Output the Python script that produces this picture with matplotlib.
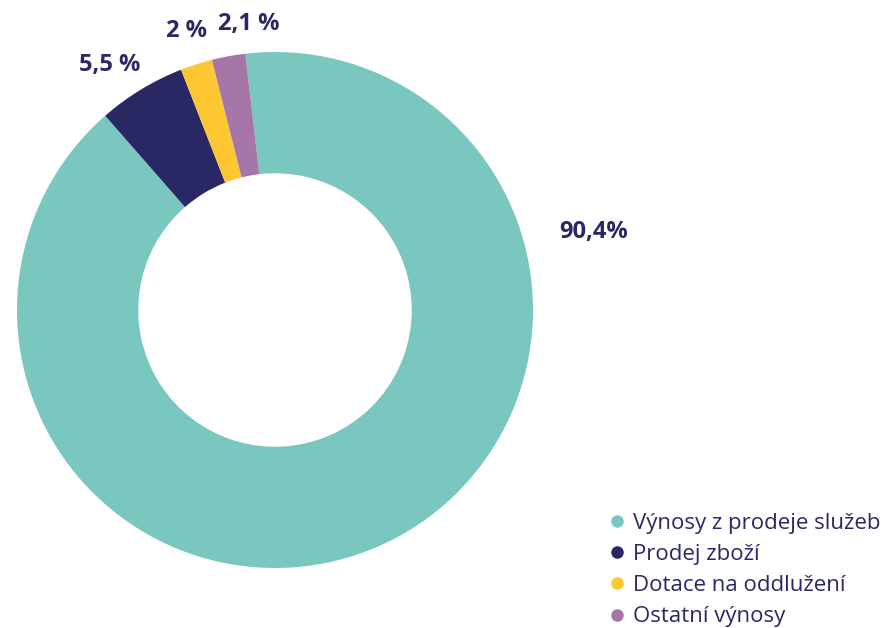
import matplotlib.pyplot as plt
from matplotlib.lines import Line2D

plt.rcParams["font.family"] = ["Open Sans", "DejaVu Sans"]

# Data
categories = ["Výnosy z prodeje služeb", "Prodej zboží", "Dotace na oddlužení", "Ostatní výnosy"]
shares = [90.4, 5.5, 2.0, 2.1]
value_labels = ["90,4%", "5,5 %", "2 %", "2,1 %"]
colors = ["#7AC7C0", "#2A2864", "#FFC633", "#A676A8"]
text_color = "#2A2864"

W, H = 887, 628
fig = plt.figure(figsize=(W / 100, H / 100), dpi=100)

# donut axes: centre (275, 310), outer radius 258 px
cx, cy, r = 275, 310, 258
ax = fig.add_axes([(cx - r) / W, (H - cy - r) / H, 2 * r / W, 2 * r / H])
ax.pie(shares, colors=colors, startangle=96.6, counterclock=False,
       radius=1, wedgeprops=dict(width=0.47, linewidth=0))
ax.set_xlim(-1, 1)
ax.set_ylim(-1, 1)
ax.set_aspect("equal")
ax.axis("off")

# value labels (pixel positions of label centres)
label_pos = [(594, 232), (110, 65), (186, 31), (249, 24)]
for txt, (x, y) in zip(value_labels, label_pos):
    fig.text(x / W, 1 - y / H, txt, ha="center", va="center",
             fontsize=17, fontweight="bold", color=text_color)

# legend
handles = [Line2D([0], [0], marker="o", linestyle="", markersize=8,
                  markerfacecolor=c, markeredgecolor=c) for c in colors]
leg = fig.legend(handles, categories, loc="lower left",
                 bbox_to_anchor=(595 / W, 1 - 643 / H),
                 frameon=False, fontsize=16, handlelength=0.6,
                 handletextpad=0.4, labelspacing=0.46, borderpad=0.2)
for t in leg.get_texts():
    t.set_color(text_color)

fig.savefig("out.png", dpi=100)
